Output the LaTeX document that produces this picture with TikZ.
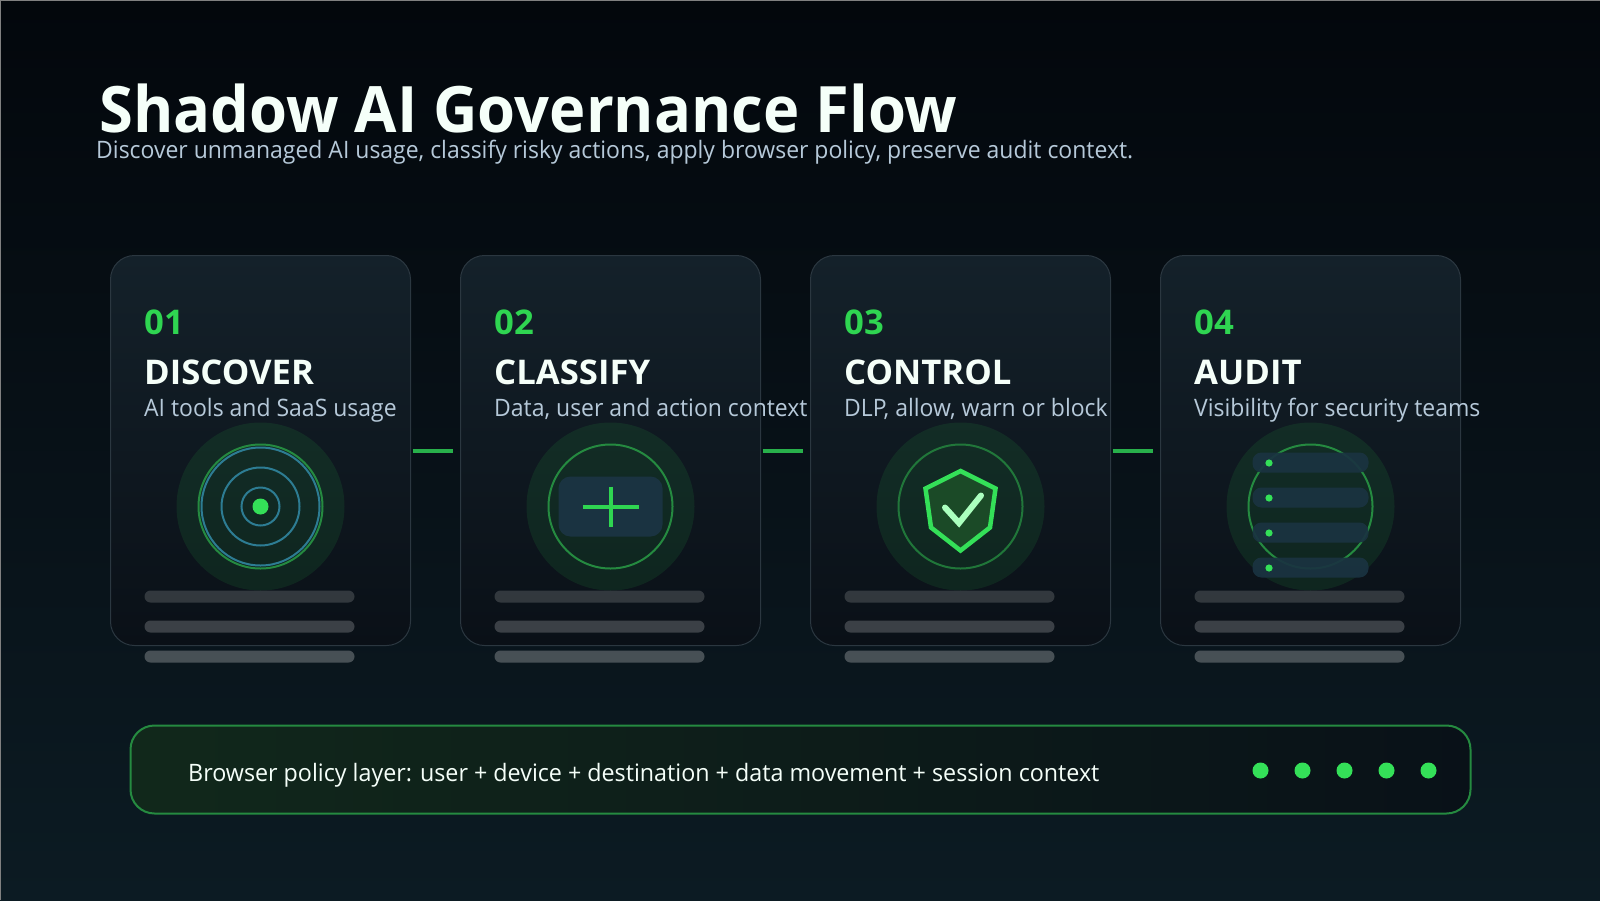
\documentclass[tikz,border=0pt]{standalone}
\usepackage{fontspec}
\setmainfont{Open Sans}
\newfontfamily\titlefont[FakeStretch=0.96]{Open Sans}
\newfontfamily\headfont[FakeStretch=1.02]{Open Sans}
\newfontfamily\subfont[FakeStretch=0.957]{Open Sans}
\newfontfamily\layerfont[FakeStretch=0.97]{Open Sans}

\definecolor{bgtop}{HTML}{03070C}
\definecolor{bgbottom}{HTML}{0C1B23}
\definecolor{cardtop}{HTML}{14212A}
\definecolor{cardbottom}{HTML}{0A1017}
\definecolor{cardline}{HTML}{2B3740}
\definecolor{neon}{HTML}{34E058}
\definecolor{numgreen}{HTML}{2FD551}
\definecolor{linkgreen}{HTML}{28B04B}
\definecolor{ringgreen}{HTML}{258A40}
\definecolor{ringblue}{HTML}{2D7C93}
\definecolor{panelblue}{HTML}{1A3341}
\definecolor{subtext}{HTML}{B6C9D9}
\definecolor{titlewhite}{HTML}{F5FFF9}
\definecolor{shieldfill}{HTML}{1B4A27}
\definecolor{tickgreen}{HTML}{ABFFBE}
\definecolor{layerleft}{HTML}{11281B}
\definecolor{layermid}{HTML}{0D1D1A}
\definecolor{layerright}{HTML}{091118}

\tikzset{
	card/.style={draw=cardline,line width=1pt,rounded corners=24pt,top color=cardtop,bottom color=cardbottom,minimum width=300pt,minimum height=390pt,outer sep=0pt},
	cardnum/.style={anchor=base west,inner sep=0pt,text=numgreen,font=\fontsize{34}{34}\headfont\bfseries},
	cardhead/.style={anchor=base west,inner sep=0pt,text=titlewhite,font=\fontsize{34}{34}\headfont\bfseries},
	cardsub/.style={anchor=base west,inner sep=0pt,text=subtext,font=\fontsize{24}{24}\subfont},
	link/.style={draw=linkgreen,line width=4pt,shorten >=8pt,shorten <=2pt},
	halo/.style={fill=numgreen,fill opacity=0.1},
	ring/.style={draw=ringgreen,line width=2pt},
	bluering/.style={draw=ringblue,line width=2pt},
	dot/.style={fill=neon},
	panel/.style={fill=panelblue,rounded corners=12pt},
	row/.style={fill=panelblue,fill opacity=0.92,rounded corners=9pt},
	barone/.style={fill=white,fill opacity=0.16,rounded corners=6pt},
	bartwo/.style={fill=white,fill opacity=0.2,rounded corners=6pt},
	barthree/.style={fill=white,fill opacity=0.25,rounded corners=6pt}
}

\begin{document}
\begin{tikzpicture}[x=1pt,y=-1pt]
	
	\useasboundingbox (0,0) rectangle (1600,900);
	\shade[top color=bgtop,bottom color=bgbottom] (0,0) rectangle (1600,900);
	\draw[gray,line width=1pt] (0,900) -- (0,0) -- (1600,0);
	
	% Heading
	\node[anchor=base west,inner sep=0pt,text=titlewhite,font=\fontsize{64}{64}\titlefont\bfseries] (title) at (99,132) {Shadow AI Governance Flow};
	\node[anchor=base west,inner sep=0pt,text=subtext,font=\fontsize{24}{24}\subfont] (subtitle) at (96,158) {Discover unmanaged AI usage, classify risky actions, apply browser policy, preserve audit context.};
	
	% First card
	\node[card] (card1) at (260.5,450.5) {};
	\node[cardnum] (num1) at (144,334) {01};
	\node[cardhead] (head1) at (144,384) {DISCOVER};
	\node[cardsub] (sub1) at (144,416) {AI tools and SaaS usage};
	
	%% Radar
	\fill[halo] (260.5,506.5) circle[radius=84];
	\draw[ring] (260.5,506.5) circle[radius=62];
	\draw[bluering] (260.5,506.5) circle[radius=59];
	\draw[bluering] (260.5,506.5) circle[radius=39];
	\draw[bluering] (260.5,506.5) circle[radius=19];
	\fill[dot] (260.5,506.5) circle[radius=8];
	
	%% Bars
	\fill[barone] (144.5,590.5) rectangle (354.5,602.5);
	\fill[bartwo] (144.5,620.5) rectangle (354.5,632.5);
	\fill[barthree] (144.5,650.5) rectangle (354.5,662.5);
	
	% Second card
	\node[card] (card2) at (610.5,450.5) {};
	\node[cardnum] (num2) at (494,334) {02};
	\node[cardhead] (head2) at (494,384) {CLASSIFY};
	\node[cardsub] (sub2) at (494,416) {Data, user and action context};
	
	%% Plus panel
	\fill[halo] (610.5,506.5) circle[radius=84];
	\draw[ring] (610.5,506.5) circle[radius=62];
	\fill[panel] (558.5,476.5) rectangle (662.5,536.5);
	\draw[draw=numgreen,line width=4pt] (582.5,506.5) -- (638.5,506.5);
	\draw[draw=numgreen,line width=4pt] (610.5,486.5) -- (610.5,526.5);
	
	%% Bars
	\fill[barone] (494.5,590.5) rectangle (704.5,602.5);
	\fill[bartwo] (494.5,620.5) rectangle (704.5,632.5);
	\fill[barthree] (494.5,650.5) rectangle (704.5,662.5);
	
	% Third card
	\node[card] (card3) at (960.5,450.5) {};
	\node[cardnum] (num3) at (844,334) {03};
	\node[cardhead] (head3) at (844,384) {CONTROL};
	\node[cardsub] (sub3) at (844,416) {DLP, allow, warn or block};
	
	%% Shield
	\fill[halo] (960.5,506.5) circle[radius=84];
	\draw[ring,draw opacity=0.8] (960.5,506.5) circle[radius=62];
	\draw[draw=neon,fill=shieldfill,line width=4.5pt,miter limit=4] (960.5,471) -- (995.5,488.5) -- (990,527.5) -- (960.5,550.5) -- (931,527.5) -- (925.5,488.5) -- cycle;
	\draw[draw=tickgreen,line width=6pt,line cap=round,line join=miter] (945,507.5) -- (959,523) -- (981,495.5);
	
	%% Bars
	\fill[barone] (844.5,590.5) rectangle (1054.5,602.5);
	\fill[bartwo] (844.5,620.5) rectangle (1054.5,632.5);
	\fill[barthree] (844.5,650.5) rectangle (1054.5,662.5);
	
	% Fourth card
	\node[card] (card4) at (1310.5,450.5) {};
	\node[cardnum] (num4) at (1194,334) {04};
	\node[cardhead] (head4) at (1194,384) {AUDIT};
	\node[cardsub] (sub4) at (1194,416) {Visibility for security teams};
	
	%% Log rows
	\fill[halo] (1310.5,506.5) circle[radius=84];
	\draw[ring] (1310.5,506.5) circle[radius=62];
	\fill[row] (1252.5,452.5) rectangle (1368.5,472.5);
	\fill[row] (1252.5,487.5) rectangle (1368.5,507.5);
	\fill[row] (1252.5,522.5) rectangle (1368.5,542.5);
	\fill[row] (1252.5,557.5) rectangle (1368.5,577.5);
	\fill[dot] (1269,463) circle[radius=3.6];
	\fill[dot] (1269,498) circle[radius=3.6];
	\fill[dot] (1269,533) circle[radius=3.6];
	\fill[dot] (1269,568) circle[radius=3.6];
	
	%% Bars
	\fill[barone] (1194.5,590.5) rectangle (1404.5,602.5);
	\fill[bartwo] (1194.5,620.5) rectangle (1404.5,632.5);
	\fill[barthree] (1194.5,650.5) rectangle (1404.5,662.5);
	
	% Links between the cards
	\draw[link] (card1.east) -- (card2.west);
	\draw[link] (card2.east) -- (card3.west);
	\draw[link] (card3.east) -- (card4.west);
	
	% Policy layer
	\node[draw=ringgreen,line width=2pt,rounded corners=24pt,left color=layerleft,middle color=layermid,right color=layerright,minimum width=1340pt,minimum height=88pt,outer sep=0pt] (layer) at (800.5,769.5) {};
	\node[anchor=base west,inner sep=0pt,text=titlewhite,font=\fontsize{24}{24}\layerfont] (layertext) at (188,781) {Browser policy layer: user + device + destination + data movement + session context};
	
	%% Dots
	\fill[dot] (1260.5,770.5) circle[radius=8];
	\fill[dot] (1302.5,770.5) circle[radius=8];
	\fill[dot] (1344.5,770.5) circle[radius=8];
	\fill[dot] (1386.5,770.5) circle[radius=8];
	\fill[dot] (1428.5,770.5) circle[radius=8];
	
\end{tikzpicture}
\end{document}
